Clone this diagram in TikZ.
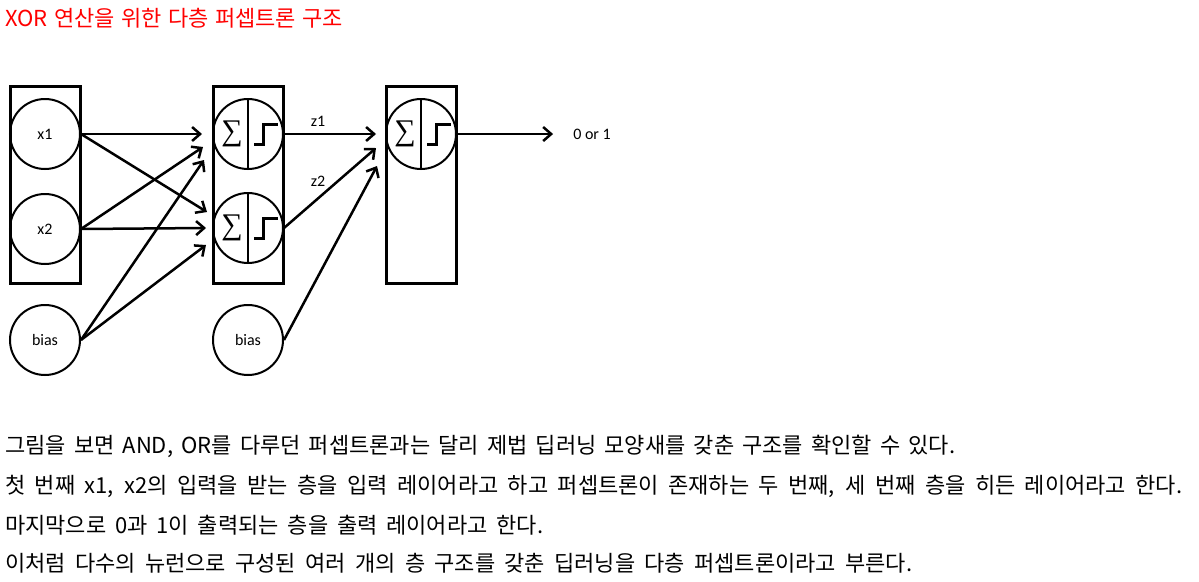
\documentclass[tikz,border=0pt]{standalone}
\usepackage{fontspec}
\setmainfont{Carlito}
\newfontfamily\kofont{Noto Sans CJK KR}
\newfontfamily\symfont{Liberation Serif}
\usetikzlibrary{arrows.meta,positioning}

% one line of Korean text, spread to the given width
\newcommand\kline[2]{\hbox to #1{\kofont\fontsize{22}{22}\selectfont\spaceskip=0.2em plus 1fil\relax #2}}

\tikzset{
  layerbox/.style={rectangle,draw,line width=3pt,minimum width=70pt,minimum height=197pt,inner sep=0pt},
  unit/.style={circle,draw,line width=2pt,minimum size=70pt,inner sep=0pt,font=\fontsize{16}{16}\selectfont},
  conn/.style={line width=2.5pt,-{Straight Barb[length=8pt,width=14pt]}},
  lbl/.style={inner sep=0pt,font=\fontsize{16}{16}\selectfont},
  kotext/.style={anchor=west,inner sep=0pt}
}

\begin{document}
\begin{tikzpicture}[x=1pt,y=-1pt]
      \useasboundingbox (0,0) rectangle (1199,581);

      \node[kotext,text=red] (title) at (5,18) {\kline{338pt}{XOR 연산을 위한 다층 퍼셉트론 구조}};

      % input layer
      \node[layerbox] (inbox) at (45,184.5) {};
      \node[unit] (x1) at (45,134) {x1};
      \node[unit] (x2) at (45,229) {x2};
      \node[unit] (b1) at (45,340) {bias};

      % hidden layer
      \node[layerbox] (hidbox) at (248,184.5) {};
      \node[unit] (h1) at (248,134) {};
      \node[unit] (h2) at (248,228) {};
      \node[unit] (b2) at (248,340) {bias};

      % output layer
      \node[layerbox] (outbox) at (421,184.5) {};
      \node[unit] (o) at (421,134) {};
      \node[lbl] (y) at (592,134) {0 or 1};

      \foreach \n in {h1,h2,o} {
        \draw[line width=2pt] (\n.north) -- (\n.south);
        \node[inner sep=0pt,font=\symfont\fontsize{30}{30}\selectfont] at ([xshift=-16pt]\n.center) {∑};
        \draw[line width=3pt] ([shift={(6,10)}]\n.center) -- ++(9,0) -- ++(0,-20) -- ++(15,0);
      }

      \draw[conn] (x1.east) -- ([shift={(-10,0)}]h1.west);
      \draw[conn] (x2.east) -- ([shift={(-9,13)}]h1.west);
      \draw[conn] (b1.east) -- ([shift={(-8,26)}]h1.west);
      \draw[conn] (x1.east) -- ([shift={(-5,-16)}]h2.west);
      \draw[conn] (x2.east) -- ([shift={(-6,0)}]h2.west);
      \draw[conn] (b1.east) -- ([shift={(-6,17)}]h2.west);

      \draw[conn] (h1.east) -- ([shift={(-9,0)}]o.west);
      \draw[conn] (h2.east) -- ([shift={(-9,14)}]o.west);
      \draw[conn] (b2.east) -- ([shift={(-8,32)}]o.west);
      \draw[conn,shorten >=20pt] (o) -- (y);

      \node[lbl] (z1) at (318,121) {z1};
      \node[lbl] (z2) at (318,181) {z2};

      \node[kotext] (line1) at (5,446) {\kline{950pt}{그림을 보면 AND, OR를 다루던 퍼셉트론과는 달리 제법 딥러닝 모양새를 갖춘 구조를 확인할 수 있다.}};
      \node[kotext] (line2) at (5,486) {\kline{1177pt}{첫 번째 x1, x2의 입력을 받는 층을 입력 레이어라고 하고 퍼셉트론이 존재하는 두 번째, 세 번째 층을 히든 레이어라고 한다.}};
      \node[kotext] (line3) at (5,525) {\kline{538pt}{마지막으로 0과 1이 출력되는 층을 출력 레이어라고 한다.}};
      \node[kotext] (line4) at (5,563) {\kline{907pt}{이처럼 다수의 뉴런으로 구성된 여러 개의 층 구조를 갖춘 딥러닝을 다층 퍼셉트론이라고 부른다.}};
\end{tikzpicture}
\end{document}
